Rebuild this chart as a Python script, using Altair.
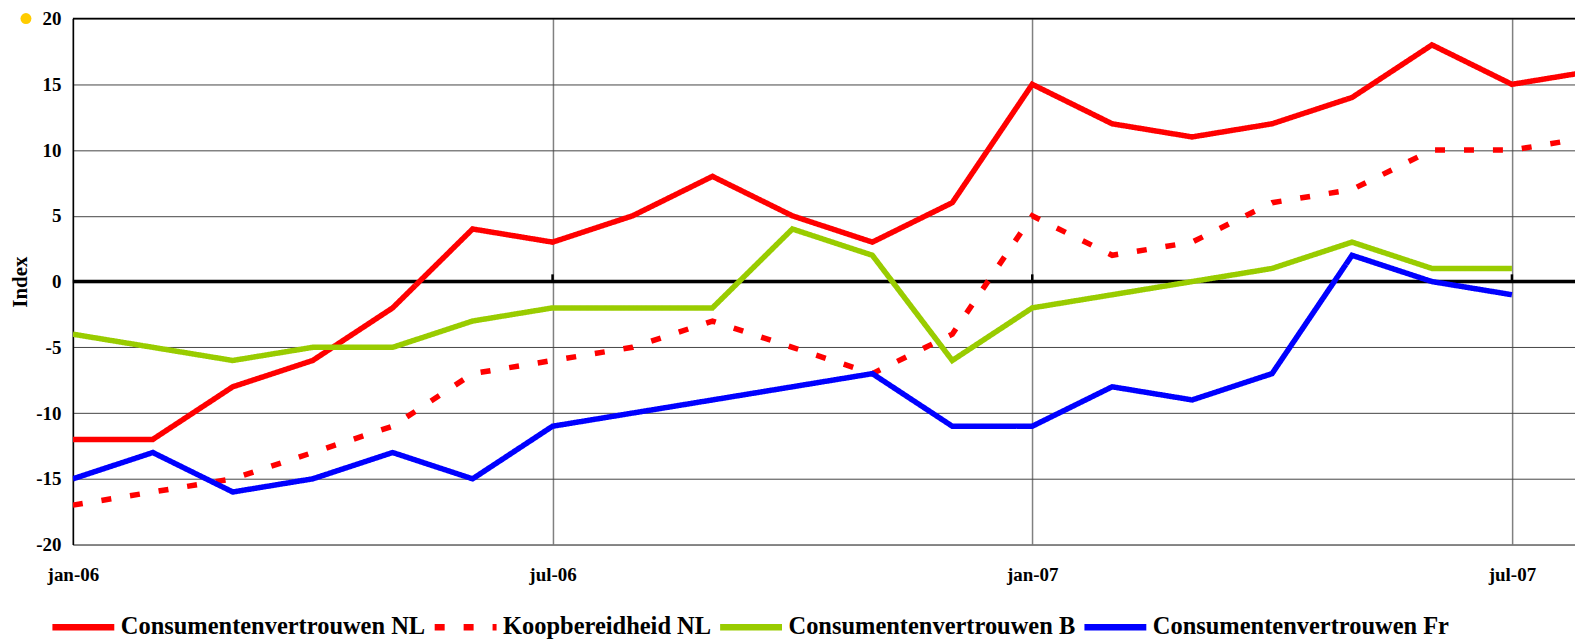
import altair as alt
import pandas as pd

series_names = ["Consumentenvertrouwen NL", "Koopbereidheid NL",
                "Consumentenvertrouwen B", "Consumentenvertrouwen Fr"]
series_colors = ["#FF0000", "#FF0000", "#99CC00", "#0000FF"]
series_dash = [[1, 0], [10, 19], [1, 0], [1, 0]]

# month index 0 = jan-06
cons_nl = [-12, -12, -8, -6, -2, 4, 3, 5, 8, 5, 3, 6, 15, 12, 11, 12, 14, 18, 15, 16]
koop_nl = [-17, -16, -15, -13, -11, -7, -6, -5, -3, -5, -7, -4, 5, 2, 3, 6, 7, 10, 10, 11]
cons_b = [-4, -5, -6, -5, -5, -3, -2, -2, -2, 4, 2, -6, -2, -1, 0, 1, 3, 1, 1]
cons_fr = [-15, -13, -16, -15, -13, -15, -11, -10, -9, -8, -7, -11, -11, -8, -9, -7, 2, 0, -1]

tick_months = [0, 6, 12, 18]
tick_labels = ["jan-06", "jul-06", "jan-07", "jul-07"]
y_ticks = [-20, -15, -10, -5, 0, 5, 10, 15, 20]

rows = []
for name, vals in zip(series_names, [cons_nl, koop_nl, cons_b, cons_fr]):
    for i, v in enumerate(vals):
        rows.append({"m": i, "v": v, "s": name, "o": series_names.index(name)})
df = pd.DataFrame(rows)

W, H = 1505, 527
x_max = W / 80.1
font = "Liberation Serif"

label_expr = " : ".join(
    f"datum.value == {m} ? '{l}'" for m, l in zip(tick_months, tick_labels)
) + " : ''"

xscale = alt.Scale(domain=[0, x_max], nice=False, zero=False)
yscale = alt.Scale(domain=[-20, 20], nice=False)

legend = alt.Legend(
    title=None, orient="none", direction="horizontal", legendX=-24, legendY=575,
    symbolType="stroke", symbolSize=3844, symbolStrokeWidth=6.5,
    labelFont=font, labelFontWeight="bold", labelFontSize=24.5, labelColor="black",
    labelLimit=800, labelOffset=3, columnPadding=-5, padding=0,
)

lines = alt.Chart(df).mark_line(strokeWidth=5.5, clip=True, strokeCap="butt").encode(
    x=alt.X("m:Q", scale=xscale,
            axis=alt.Axis(values=tick_months, labelExpr=label_expr, title=None,
                          grid=True, gridColor="#808080", gridWidth=1.5,
                          domainColor="#808080", domainWidth=1.5, ticks=False,
                          labelFlush=False, labelOverlap=False,
                          labelPadding=21, labelFont=font, labelFontWeight="bold",
                          labelFontSize=19, labelColor="black")),
    y=alt.Y("v:Q", scale=yscale,
            axis=alt.Axis(values=y_ticks, labelExpr="'' + datum.value", title="Index",
                          grid=True, gridColor="#444444",
                          gridWidth=1, domainColor="black", domainWidth=1.5, ticks=False,
                          labelFlush=False, labelOverlap=False,
                          labelPadding=12, labelFont=font, labelFontWeight="bold",
                          labelFontSize=21 if False else 19, labelColor="black",
                          titleFont=font, titleFontWeight="bold", titleFontSize=21,
                          titleColor="black", titlePadding=5)),
    color=alt.Color("s:N", scale=alt.Scale(domain=series_names, range=series_colors),
                    legend=legend),
    strokeDash=alt.StrokeDash("s:N", scale=alt.Scale(domain=series_names, range=series_dash),
                              legend=legend),
    order=alt.Order("o:Q"),
)

zero_line = alt.Chart(pd.DataFrame({"z": [0]})).mark_rule(color="black", strokeWidth=3.5).encode(
    y=alt.Y("z:Q", scale=yscale)
)
top_line = alt.Chart(pd.DataFrame({"t": [20]})).mark_rule(color="black", strokeWidth=1.5).encode(
    y=alt.Y("t:Q", scale=yscale)
)
zero_ticks = alt.Chart(pd.DataFrame({"m": tick_months[1:], "a": [0] * 3, "b": [0.55] * 3})).mark_rule(
    color="black", strokeWidth=2.5).encode(
    x=alt.X("m:Q", scale=xscale), y=alt.Y("a:Q", scale=yscale), y2="b:Q"
)
dot = alt.Chart(pd.DataFrame({"d": [0]})).mark_circle(color="#FFCC00", opacity=1, size=120).encode(
    x=alt.value(-47), y=alt.value(0)
)

chart = alt.layer(zero_line, top_line, zero_ticks, lines, dot).properties(
    width=W, height=H,
    autosize=alt.AutoSizeParams(type="none"),
    padding={"left": 65, "top": 10, "right": 0, "bottom": 97},
).configure_view(stroke=None).configure(background="white")

chart.save("out.html", embed_options={"renderer": "svg", "actions": False})
